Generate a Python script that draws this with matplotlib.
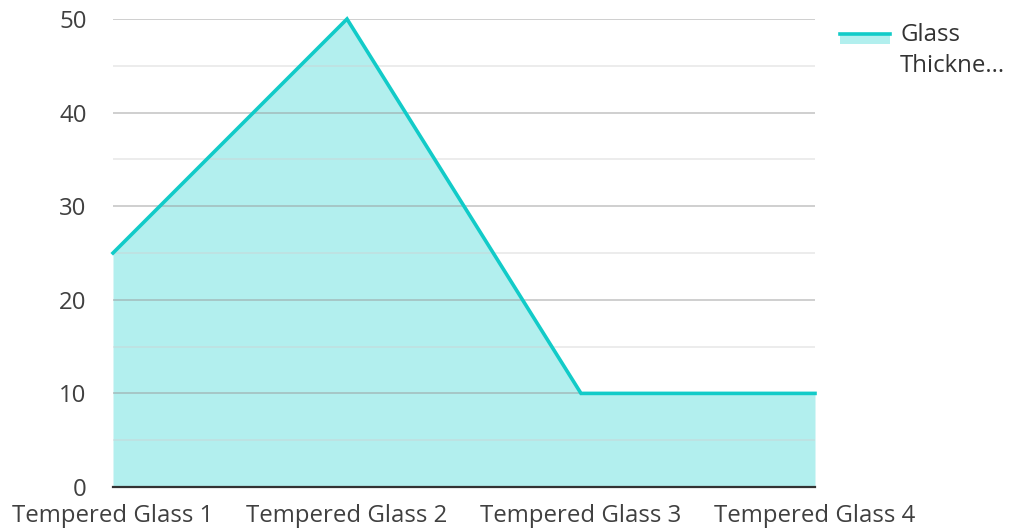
import matplotlib
matplotlib.use("Agg")
import matplotlib.pyplot as plt
from matplotlib.lines import Line2D
from matplotlib.patches import Rectangle

plt.rcParams['font.family'] = ['Open Sans', 'DejaVu Sans']

categories = ["Tempered Glass 1", "Tempered Glass 2", "Tempered Glass 3", "Tempered Glass 4"]
values = [25, 50, 10, 10]
series_name = "Glass\nThickne..."
y_ticks = [0, 10, 20, 30, 40, 50]

line_color = "#12CBC8"
fill_color = "#B2EFEE"

fig = plt.figure(figsize=(10.10, 5.29), dpi=100)
ax = fig.add_axes([113/1010, 1-487/529, (815-113)/1010, (487-19)/529])

x = list(range(len(categories)))
ax.fill_between(x, values, 0, color=fill_color, zorder=1, linewidth=0)
ax.plot(x, values, color=line_color, linewidth=2.6, zorder=3, solid_joinstyle='miter', clip_on=False)

ax.set_xlim(0, len(categories) - 1)
ax.set_ylim(0, 50)
ax.set_yticks(y_ticks)
ax.set_yticks([5, 15, 25, 35, 45], minor=True)
ax.set_xticks(x)
ax.set_xticklabels(categories)

ax.grid(axis='y', which='major', color='#9a9a9a', alpha=0.6, linewidth=1.1, zorder=2)
ax.grid(axis='y', which='minor', color='#cfcfcf', alpha=0.5, linewidth=1.1, zorder=2)
ax.set_axisbelow(False)

for s in ['top', 'right', 'left']:
    ax.spines[s].set_visible(False)
ax.spines['bottom'].set_color('#333333')
ax.spines['bottom'].set_linewidth(1.6)
ax.spines['bottom'].set_zorder(4)

ax.tick_params(axis='both', which='both', length=0, labelsize=17.3, colors='#404040')
ax.tick_params(axis='y', pad=19)
ax.tick_params(axis='x', pad=12)

# legend
fig.add_artist(Rectangle((840/1010, 1-44/529), 50/1010, 11/529, transform=fig.transFigure,
                         facecolor=fill_color, edgecolor='none'))
fig.add_artist(Line2D([840/1010, 890/1010], [1-34/529, 1-34/529], transform=fig.transFigure,
                      color=line_color, linewidth=2.6))
fig.text(900/1010, 1-50.5/529, series_name, transform=fig.transFigure, fontsize=17.3,
         color='#333333', va='center', ha='left', linespacing=1.4)

fig.savefig("out.png", dpi=100)
